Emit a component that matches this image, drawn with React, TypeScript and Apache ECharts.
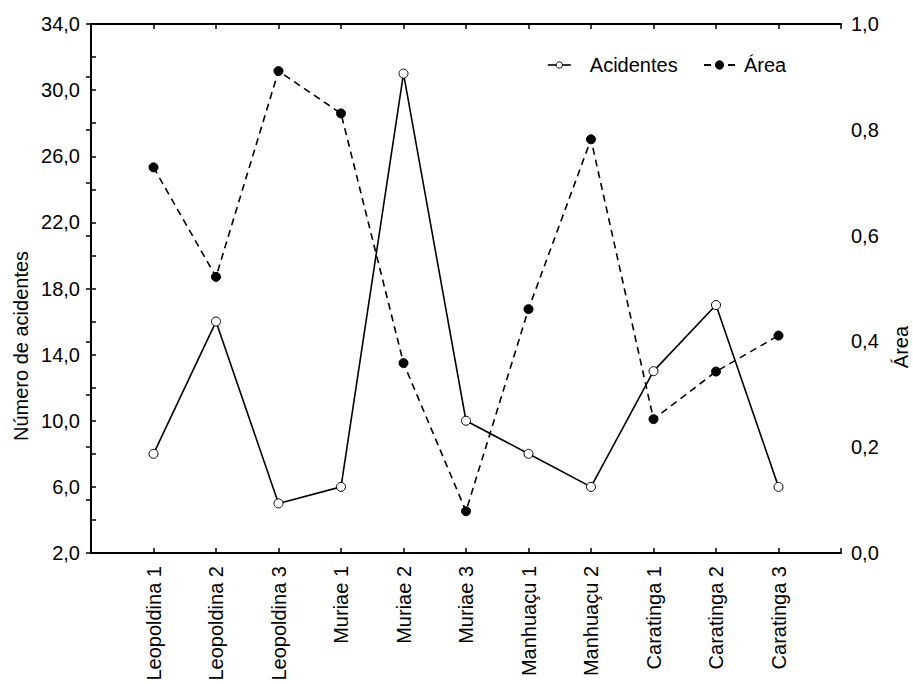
import React, { useEffect, useRef } from "react";
import * as echarts from "echarts";

const categories = [
  "Leopoldina 1", "Leopoldina 2", "Leopoldina 3",
  "Muriae 1", "Muriae 2", "Muriae 3",
  "Manhuaçu 1", "Manhuaçu 2",
  "Caratinga 1", "Caratinga 2", "Caratinga 3",
];
const acidentes = [8, 16, 5, 6, 31, 10, 8, 6, 13, 17, 6];
const area = [0.729, 0.522, 0.911, 0.831, 0.359, 0.079, 0.461, 0.782, 0.253, 0.343, 0.411];

const FONT = "'Liberation Sans', Arial, sans-serif";
const FS = 20;

export default function App() {
  const ref = useRef<HTMLDivElement>(null);
  useEffect(() => {
    if (!ref.current) return;
    const chart = echarts.init(ref.current, null, { renderer: "svg" });
    const axisLine = { show: true, lineStyle: { color: "#000", width: 2 } };
    const axisTick = { show: true, inside: true, length: 5, lineStyle: { color: "#000", width: 1.5 } };
    const fmt = (v: number) => v.toFixed(1).replace(".", ",");
    chart.setOption({
      animation: false,
      backgroundColor: "#fff",
      textStyle: { fontFamily: FONT },
      grid: { left: 91, right: 72, top: 24, bottom: 131, containLabel: false },
      legend: [
        {
          data: ["Acidentes"],
          left: 547,
          top: 55,
          padding: 0,
          itemWidth: 23,
          itemHeight: 8,
          lineStyle: { color: "#000", width: 1.6, type: "solid" },
          itemStyle: { color: "#fff", borderColor: "#000", borderWidth: 1 },
          textStyle: { fontSize: FS, fontFamily: FONT, color: "#000", padding: [0, 0, 0, 14] },
        },
        {
          data: ["Área"],
          left: 703,
          top: 55,
          padding: 0,
          itemWidth: 31,
          itemHeight: 9,
          textStyle: { fontSize: FS, fontFamily: FONT, color: "#000", padding: [0, 0, 0, 4] },
        },
      ],
      xAxis: [
        {
          type: "value",
          position: "bottom",
          min: 0,
          max: 12,
          interval: 1,
          axisLine,
          axisTick,
          splitLine: { show: false },
          axisLabel: {
            rotate: 90,
            margin: 13,
            fontSize: FS,
            fontFamily: FONT,
            color: "#000",
            formatter: (v: number) => categories[Math.round(v) - 1] ?? "",
          },
        },
        {
          type: "value",
          position: "top",
          min: 0,
          max: 12,
          interval: 1,
          axisLine,
          axisTick,
          splitLine: { show: false },
          axisLabel: { show: false },
        },
      ],
      yAxis: [
        {
          type: "value",
          position: "left",
          min: 2,
          max: 34,
          interval: 2,
          axisLine,
          axisTick,
          splitLine: { show: false },
          axisLabel: {
            margin: 11,
            fontSize: FS,
            fontFamily: FONT,
            color: "#000",
            formatter: (v: number) => (Math.round(v - 2) % 4 === 0 ? fmt(v) : ""),
          },
        },
        {
          type: "value",
          position: "right",
          min: 0,
          max: 1,
          interval: 0.1,
          axisLine,
          axisTick,
          splitLine: { show: false },
          axisLabel: {
            margin: 10,
            fontSize: FS,
            fontFamily: FONT,
            color: "#000",
            formatter: (v: number) => (Math.round(v * 10) % 2 === 0 ? fmt(v) : ""),
          },
        },
      ],
      graphic: [
        {
          type: "text",
          x: 21,
          y: 346,
          rotation: Math.PI / 2,
          style: {
            text: "Número de acidentes",
            fontSize: FS,
            fontFamily: FONT,
            fill: "#000",
            align: "center",
            verticalAlign: "middle",
          },
        },
        {
          type: "text",
          x: 901,
          y: 347,
          rotation: Math.PI / 2,
          style: {
            text: "Área",
            fontSize: FS,
            fontFamily: FONT,
            fill: "#000",
            align: "center",
            verticalAlign: "middle",
          },
        },
      ],
      series: [
        {
          name: "Área",
          type: "line",
          xAxisIndex: 0,
          yAxisIndex: 1,
          data: area.map((v, i) => [i + 1, v]),
          symbol: "circle",
          symbolSize: 9,
          itemStyle: { color: "#000", borderColor: "#000", borderWidth: 1 },
          lineStyle: { color: "#000", width: 1.6, type: [7, 5] },
          z: 2,
        },
        {
          name: "Acidentes",
          type: "line",
          xAxisIndex: 0,
          yAxisIndex: 0,
          data: acidentes.map((v, i) => [i + 1, v]),
          symbol: "circle",
          symbolSize: 9,
          itemStyle: { color: "#fff", borderColor: "#000", borderWidth: 1 },
          lineStyle: { color: "#000", width: 1.6 },
          z: 3,
        },
      ],
    });
    return () => chart.dispose();
  }, []);
  return (
    <div
      ref={ref}
      style={{ position: "absolute", left: 0, top: 0, width: 913, height: 684 }}
    />
  );
}
